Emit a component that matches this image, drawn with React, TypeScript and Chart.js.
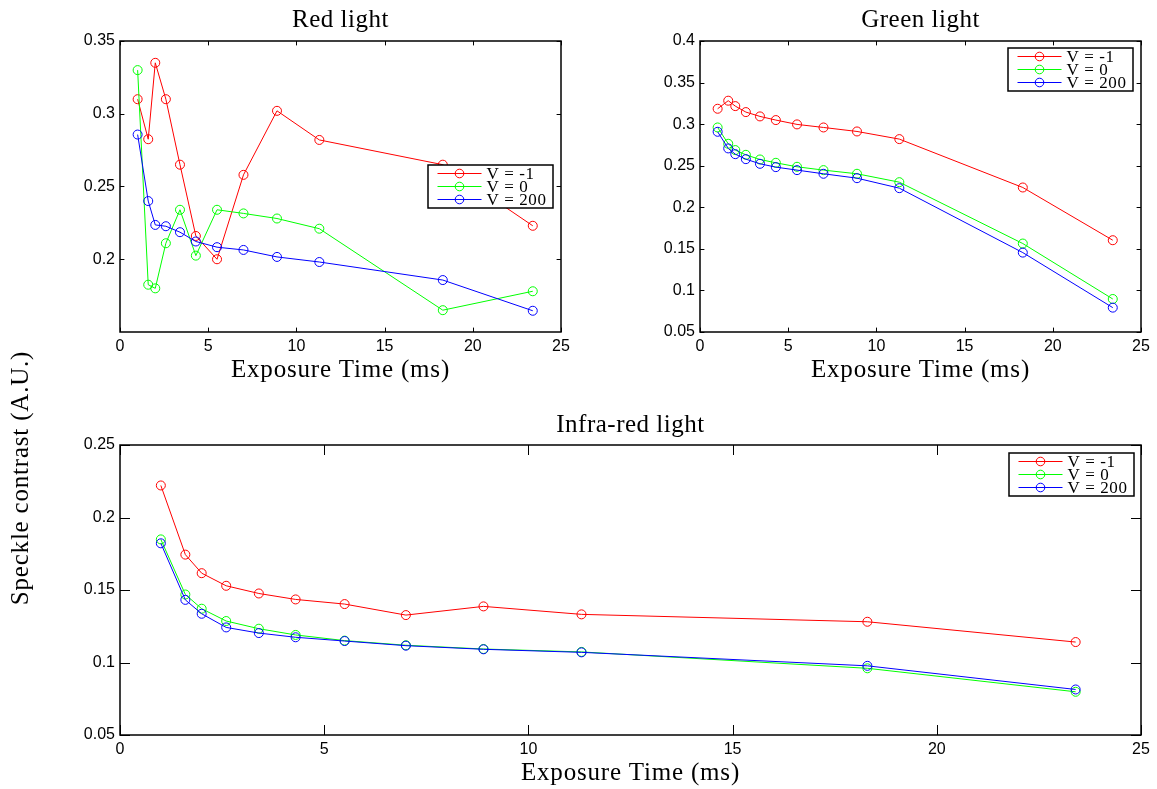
import React, { useEffect, useRef } from "react";
import { Chart, registerables } from "chart.js";

Chart.register(...registerables);

const PAGE_W = 1157;
const PAGE_H = 789;

// ---------- data ----------
const exposureTimes = [1, 1.6, 2, 2.6, 3.4, 4.3, 5.5, 7, 8.9, 11.3, 18.3, 23.4];
const seriesLabels = ["V = -1", "V = 0", "V = 200"];
const seriesColors = ["#ff0000", "#00ff00", "#0000ff"];

const xTicks = [0, 5, 10, 15, 20, 25];
const redYTicks = [0.2, 0.25, 0.3, 0.35];
const greenYTicks = [0.05, 0.1, 0.15, 0.2, 0.25, 0.3, 0.35, 0.4];
const irYTicks = [0.05, 0.1, 0.15, 0.2, 0.25];

const redVm1 = [0.31, 0.2825, 0.335, 0.31, 0.265, 0.216, 0.2, 0.258, 0.302, 0.282, 0.265, 0.223];
const redV0 = [0.33, 0.1825, 0.18, 0.211, 0.234, 0.2025, 0.234, 0.2315, 0.228, 0.221, 0.165, 0.178];
const redV200 = [0.2857, 0.24, 0.2236, 0.2227, 0.2186, 0.2122, 0.2083, 0.2064, 0.2016, 0.1981, 0.1857, 0.1646];

const greenVm1 = [0.3185, 0.3282, 0.3217, 0.3145, 0.3093, 0.3049, 0.2997, 0.296, 0.2912, 0.282, 0.2238, 0.1604];
const greenV0 = [0.296, 0.2764, 0.2688, 0.2631, 0.2575, 0.2535, 0.2487, 0.2447, 0.2403, 0.2302, 0.1564, 0.0897];
const greenV200 = [0.2908, 0.2708, 0.2639, 0.2579, 0.2523, 0.2483, 0.2447, 0.2403, 0.235, 0.223, 0.1455, 0.0793];

const irVm1 = [0.2221, 0.1744, 0.1616, 0.1529, 0.1476, 0.1435, 0.1403, 0.1327, 0.1387, 0.1332, 0.1281, 0.1141];
const irV0 = [0.1849, 0.1469, 0.1371, 0.1286, 0.1233, 0.119, 0.1151, 0.1119, 0.1093, 0.1073, 0.096, 0.0798];
const irV200 = [0.1822, 0.1432, 0.1336, 0.1242, 0.1203, 0.1174, 0.1148, 0.1116, 0.1091, 0.107, 0.0977, 0.0814];

const xAxisTitle = "Exposure Time (ms)";
const yAxisTitle = "Speckle contrast (A.U.)";

// ---------- styling / layout ----------
const SERIF = '"Liberation Serif", "Times New Roman", serif';
const SANS = '"Liberation Sans", Arial, Helvetica, sans-serif';

type Panel = {
  title: string;
  area: { l: number; t: number; r: number; b: number };
  yMin: number;
  yMax: number;
  yTicks: number[];
  series: number[][];
  legend: { x: number; y: number };
  tickLen: number;
  titleY: number;
  xTitleY: number;
  showYTitle?: boolean;
};

const panels: Panel[] = [
  {
    title: "Red light",
    area: { l: 120, t: 41, r: 561, b: 332 },
    yMin: 0.15,
    yMax: 0.35,
    yTicks: redYTicks,
    series: [redVm1, redV0, redV200],
    legend: { x: 428, y: 165 },
    tickLen: 4.4,
    titleY: 27,
    xTitleY: 377,
  },
  {
    title: "Green light",
    area: { l: 700, t: 41, r: 1141, b: 332 },
    yMin: 0.05,
    yMax: 0.4,
    yTicks: greenYTicks,
    series: [greenVm1, greenV0, greenV200],
    legend: { x: 1008, y: 48 },
    tickLen: 4.4,
    titleY: 27,
    xTitleY: 377,
  },
  {
    title: "Infra-red light",
    area: { l: 120, t: 445, r: 1141, b: 735 },
    yMin: 0.05,
    yMax: 0.25,
    yTicks: irYTicks,
    series: [irVm1, irV0, irV200],
    legend: { x: 1009, y: 453 },
    tickLen: 10,
    titleY: 432,
    xTitleY: 780,
    showYTitle: true,
  },
];

function drawSerif(ctx: CanvasRenderingContext2D, text: string, x: number, y: number, size: number, spacing: number) {
  ctx.font = `${size}px ${SERIF}`;
  (ctx as any).letterSpacing = `${spacing}px`;
  ctx.fillStyle = "#000";
  ctx.textAlign = "center";
  ctx.textBaseline = "alphabetic";
  ctx.fillText(text, x, y);
  (ctx as any).letterSpacing = "0px";
}

function makeFramePlugin(p: Panel) {
  return {
    id: "frame",
    afterDatasetsDraw(chart: any) {
      const ctx: CanvasRenderingContext2D = chart.ctx;
      const { left, top, right, bottom } = chart.chartArea;
      const xs = chart.scales.x;
      const ys = chart.scales.y;
      ctx.save();
      // inner ticks
      ctx.strokeStyle = "#000";
      ctx.lineWidth = 1;
      ctx.beginPath();
      for (const v of xTicks) {
        const px = Math.round(xs.getPixelForValue(v)) + 0.5;
        ctx.moveTo(px, bottom);
        ctx.lineTo(px, bottom - p.tickLen);
        ctx.moveTo(px, top);
        ctx.lineTo(px, top + p.tickLen);
      }
      for (const v of p.yTicks) {
        const py = Math.round(ys.getPixelForValue(v)) + 0.5;
        ctx.moveTo(left, py);
        ctx.lineTo(left + p.tickLen, py);
        ctx.moveTo(right, py);
        ctx.lineTo(right - p.tickLen, py);
      }
      ctx.stroke();
      // box
      ctx.lineWidth = 1.5;
      ctx.strokeRect(left, top, right - left, bottom - top);

      // legend
      const lx = p.legend.x;
      const ly = p.legend.y;
      const lw = 125;
      const lh = 43;
      ctx.fillStyle = "#fff";
      ctx.fillRect(lx, ly, lw, lh);
      ctx.lineWidth = 1.5;
      ctx.strokeStyle = "#000";
      ctx.strokeRect(lx, ly, lw, lh);
      for (let i = 0; i < seriesLabels.length; i++) {
        const cy = ly + 8.5 + i * 13;
        ctx.strokeStyle = seriesColors[i];
        ctx.lineWidth = 1;
        ctx.beginPath();
        ctx.moveTo(lx + 9.5, cy);
        ctx.lineTo(lx + 53.5, cy);
        ctx.stroke();
        ctx.beginPath();
        ctx.arc(lx + 31.5, cy, 4.3, 0, Math.PI * 2);
        ctx.stroke();
        ctx.font = `17px ${SERIF}`;
        (ctx as any).letterSpacing = "0.6px";
        ctx.fillStyle = "#000";
        ctx.textAlign = "left";
        ctx.textBaseline = "alphabetic";
        ctx.fillText(seriesLabels[i], lx + 58.5, cy + 5.8);
        (ctx as any).letterSpacing = "0px";
      }

      // titles
      const cx = (left + right) / 2;
      drawSerif(ctx, p.title, cx, p.titleY, 25, 0.5);
      drawSerif(ctx, xAxisTitle, cx, p.xTitleY, 25, 0.8);
      if (p.showYTitle) {
        ctx.save();
        ctx.translate(28, 478);
        ctx.rotate(-Math.PI / 2);
        drawSerif(ctx, yAxisTitle, 0, 0, 25, 0.8);
        ctx.restore();
      }
      ctx.restore();
    },
  };
}

function makeConfig(p: Panel): any {
  return {
    type: "line",
    data: {
      datasets: p.series.map((vals, i) => ({
        label: seriesLabels[i],
        data: exposureTimes.map((x, j) => ({ x, y: vals[j] })),
        borderColor: seriesColors[i],
        backgroundColor: "rgba(0,0,0,0)",
        borderWidth: 1,
        pointStyle: "circle",
        pointRadius: 4.5,
        pointBorderWidth: 1,
        pointBorderColor: seriesColors[i],
        pointBackgroundColor: "rgba(0,0,0,0)",
        tension: 0,
        fill: false,
        order: 2 - i,
      })),
    },
    options: {
      responsive: false,
      animation: false,
      devicePixelRatio: 1,
      events: [],
      layout: {
        padding: {
          left: 0,
          top: p.area.t,
          right: PAGE_W - p.area.r,
          bottom: 0,
        },
      },
      plugins: {
        legend: { display: false },
        title: { display: false },
        tooltip: { enabled: false },
      },
      scales: {
        x: {
          type: "linear",
          min: 0,
          max: 25,
          afterBuildTicks: (scale: any) => {
            scale.ticks = xTicks.map((v) => ({ value: v }));
          },
          afterFit: (scale: any) => {
            scale.height = PAGE_H - p.area.b;
          },
          grid: { display: false, drawTicks: false },
          border: { display: false },
          ticks: {
            autoSkip: false,
            maxRotation: 0,
            padding: 5,
            color: "#000",
            font: { family: SANS, size: 16 },
            callback: (v: number) => String(v),
          },
        },
        y: {
          type: "linear",
          min: p.yMin,
          max: p.yMax,
          afterBuildTicks: (scale: any) => {
            scale.ticks = p.yTicks.map((v) => ({ value: v }));
          },
          afterFit: (scale: any) => {
            scale.width = p.area.l;
          },
          grid: { display: false, drawTicks: false },
          border: { display: false },
          ticks: {
            autoSkip: false,
            padding: 5,
            color: "#000",
            font: { family: SANS, size: 16 },
            callback: (v: number) => String(Math.round(v * 1000) / 1000),
          },
        },
      },
    },
    plugins: [makeFramePlugin(p)],
  };
}

function PanelCanvas({ panel }: { panel: Panel }) {
  const ref = useRef<HTMLCanvasElement | null>(null);
  useEffect(() => {
    if (!ref.current) return;
    const chart = new Chart(ref.current, makeConfig(panel));
    return () => chart.destroy();
  }, [panel]);
  return (
    <canvas
      ref={ref}
      width={PAGE_W}
      height={PAGE_H}
      style={{ position: "absolute", left: 0, top: 0, width: PAGE_W, height: PAGE_H }}
    />
  );
}

export default function App() {
  return (
    <div
      style={{
        position: "fixed",
        left: 0,
        top: 0,
        width: PAGE_W,
        height: PAGE_H,
        background: "#fff",
        overflow: "hidden",
      }}
    >
      {panels.map((p, i) => (
        <PanelCanvas key={i} panel={p} />
      ))}
    </div>
  );
}
